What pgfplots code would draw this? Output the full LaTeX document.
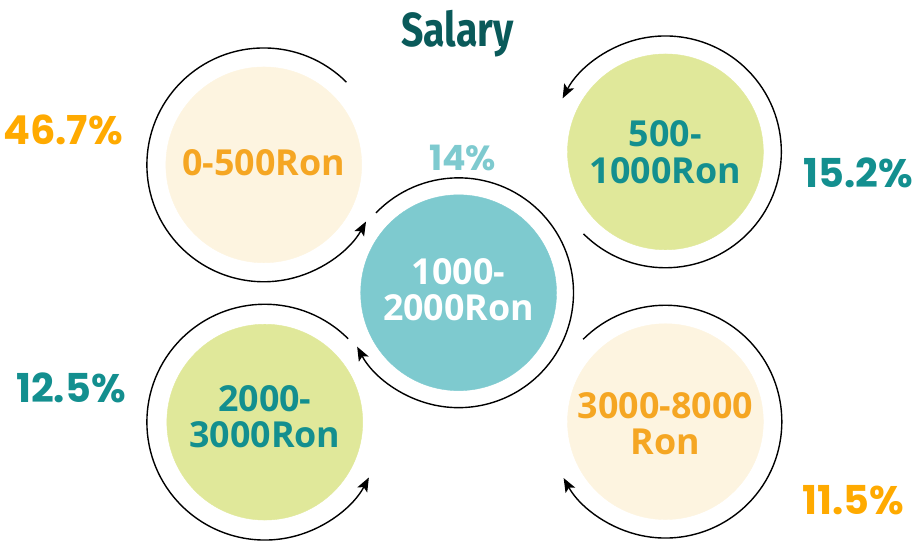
\documentclass[border=0pt]{standalone}
\usepackage{pgfplots}
\pgfplotsset{compat=1.18}
\usepackage{graphicx}
\usepackage{fontspec}
\setmainfont{Open Sans}
\newfontfamily\pctfont{Poppins}
\newfontfamily\titlefont{Fira Sans}
\usetikzlibrary{arrows.meta}
\definecolor{cream}{HTML}{FDF4E0}
\definecolor{lgreen}{HTML}{E0E89A}
\definecolor{lteal}{HTML}{7ECACF}
\definecolor{txtorange}{HTML}{F5A623}
\definecolor{pctorange}{HTML}{FFAA00}
\definecolor{txtteal}{HTML}{138F8F}
\definecolor{titleteal}{HTML}{0A5A5A}
\begin{document}
\begin{tikzpicture}[
  lab/.style={align=center, font=\fontsize{36}{37}\selectfont\bfseries, anchor=center}
]
\begin{axis}[
  width=913bp, height=544bp, scale only axis,
  xmin=0, xmax=913, ymin=0, ymax=544,
  hide axis, clip=false,
  /pgf/number format/assume math mode=true,
]
\path (rel axis cs:0,0) rectangle (rel axis cs:1,1);
% salary groups as circles
\addplot[scatter, only marks, scatter src=explicit symbolic,
  scatter/classes={
    c={mark=*, fill=cream, draw=cream, mark size=98bp},
    g={mark=*, fill=lgreen, draw=lgreen, mark size=98bp},
    t={mark=*, fill=lteal, draw=lteal, mark size=98bp}}]
  table[meta=class]{
x y class
264 379 c
666 392 g
459 251 t
265 121.5 g
666 122 c
};
\coordinate (L1) at (axis cs:264,381);
\coordinate (L2) at (axis cs:666,392);
\coordinate (L3) at (axis cs:459,254);
\coordinate (L4) at (axis cs:265,127);
\coordinate (L5) at (axis cs:666,120);
\coordinate (C1) at (axis cs:264,379);
\coordinate (C2) at (axis cs:666,392);
\coordinate (C3) at (axis cs:459,251);
\coordinate (C4) at (axis cs:265,121.5);
\coordinate (C5) at (axis cs:666,122);
% percentages
\pgfplotsset{pct/.style={only marks, mark=none, point meta=explicit,
  nodes near coords={\pgfmathprintnumber[fixed,precision=1]{\pgfplotspointmeta}\%},
  every node near coord/.append style={anchor=base, inner sep=0pt}}}
\addplot[pct, every node near coord/.append style={text=pctorange, font=\pctfont\bfseries\fontsize{40}{40}\selectfont}]
  coordinates {(63,399.7) [46.7] (854,29) [11.5]};
\addplot[pct, every node near coord/.append style={text=txtteal, font=\pctfont\bfseries\fontsize{40}{40}\selectfont}]
  coordinates {(859,356) [15.2] (71,141.3) [12.5]};
\addplot[pct, every node near coord/.append style={text=lteal, font=\pctfont\bfseries\fontsize{35}{35}\selectfont}]
  coordinates {(463,373.3) [14]};
% title
\node[anchor=base, text=titleteal, inner sep=0pt] at (axis cs:458,497.3)
  {\titlefont\bfseries\fontsize{48}{50}\selectfont\scalebox{0.82}[1]{Salary}};
\end{axis}
% cycle arrows around the circles
\begin{scope}[line width=1.4bp, black, >={Stealth[length=14bp,width=11bp,inset=3bp]}]
\draw[->] (C1) ++(45:117bp) arc[start angle=45, end angle=331, radius=117bp];
\draw[->] (C2) ++(-135:116bp) arc[start angle=-135, end angle=152.5, radius=116bp];
\draw[->] (C3) ++(136:115bp) arc[start angle=136, end angle=-152, radius=115bp];
\draw[->] (C4) ++(45:118bp) arc[start angle=45, end angle=332, radius=118bp];
\draw[->] (C5) ++(135:116.5bp) arc[start angle=135, end angle=-151, radius=116.5bp];
\end{scope}
% circle labels, drawn on top of the circles
\node[lab, text=txtorange] at (L1) {0-500Ron};
\node[lab, text=txtteal] at (L2) {500-\\1000Ron};
\node[lab, text=white] at (L3) {1000-\\2000Ron};
\node[lab, text=txtteal] at (L4) {2000-\\3000Ron};
\node[lab, text=txtorange] at (L5) {3000-8000\\Ron};
\end{tikzpicture}
\end{document}
